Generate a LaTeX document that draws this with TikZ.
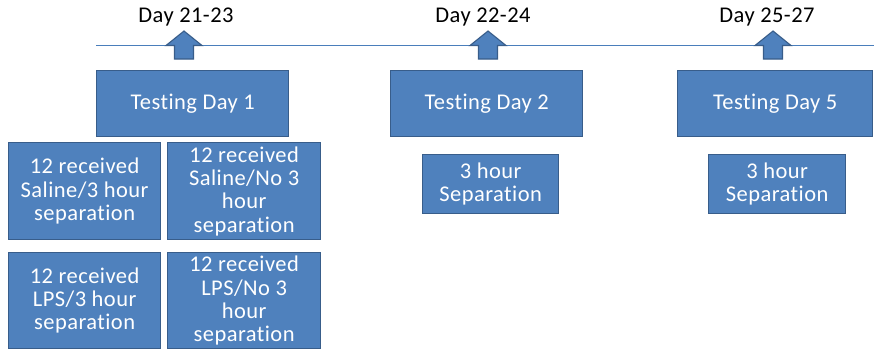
\documentclass[tikz,border=0pt]{standalone}
\usepackage{fontspec}
\setmainfont{Carlito}[Ligatures=CommonOff,LetterSpace=2]
\definecolor{boxfill}{HTML}{4F81BD}
\definecolor{boxline}{HTML}{385D8A}
\definecolor{tl}{HTML}{4A7EBB}
\begin{document}
\begin{tikzpicture}[x=1pt,y=-1pt,
  bx/.style={draw=boxline,line width=1.3pt,fill=boxfill,text=white,align=center,
    font=\fontsize{22.5}{23.3}\selectfont,inner sep=0pt,anchor=north west},
  daylbl/.style={font=\fontsize{22.5}{23}\selectfont,text=black,inner sep=0pt},
  uparrow/.style={draw=boxline,line width=1.1pt,fill=boxfill}]
\useasboundingbox (0,0) rectangle (874,351);
\fill[white] (0,0) rectangle (874,351);
\coordinate (ls) at (96,45);
\coordinate (le) at (874,45);
\draw[tl,line width=0.9pt] (ls) -- (le);
% arrows
\foreach \cx in {184,488,773}{
  \draw[uparrow] (\cx-9.5,59) -- (\cx-9.5,45.5) -- (\cx-18,45.5) -- (\cx,31) -- (\cx+18,45.5) -- (\cx+9.5,45.5) -- (\cx+9.5,59) -- cycle;
}
\node[daylbl] (d1) at (186,17) {Day 21-23};
\node[daylbl] (d2) at (483,17) {Day 22-24};
\node[daylbl] (d3) at (767,17) {Day 25-27};
% testing boxes
\node[bx,minimum width=192pt,minimum height=66pt] (t1) at (96,70) {Testing Day 1};
\node[bx,minimum width=192pt,minimum height=66pt] (t2) at (390,70) {Testing Day 2};
\node[bx,minimum width=195pt,minimum height=66pt] (t5) at (677,70) {Testing Day 5};
% separation boxes
\node[bx,minimum width=136pt,minimum height=59pt] (s2) at (422,154) {3 hour\\Separation};
\node[bx,minimum width=137pt,minimum height=59pt] (s5) at (708,154) {3 hour\\Separation};
% group boxes
\node[bx,minimum width=152pt,minimum height=97pt] (g1) at (8,142) {12 received\\Saline/3 hour\\separation};
\node[bx,minimum width=153pt,minimum height=97pt] (g2) at (167,142) {12 received\\Saline/No 3\\hour\\separation};
\node[bx,minimum width=152pt,minimum height=96pt] (g3) at (8,252) {12 received\\LPS/3 hour\\separation};
\node[bx,minimum width=153pt,minimum height=96pt] (g4) at (167,252) {12 received\\LPS/No 3\\hour\\separation};
\end{tikzpicture}
\end{document}
